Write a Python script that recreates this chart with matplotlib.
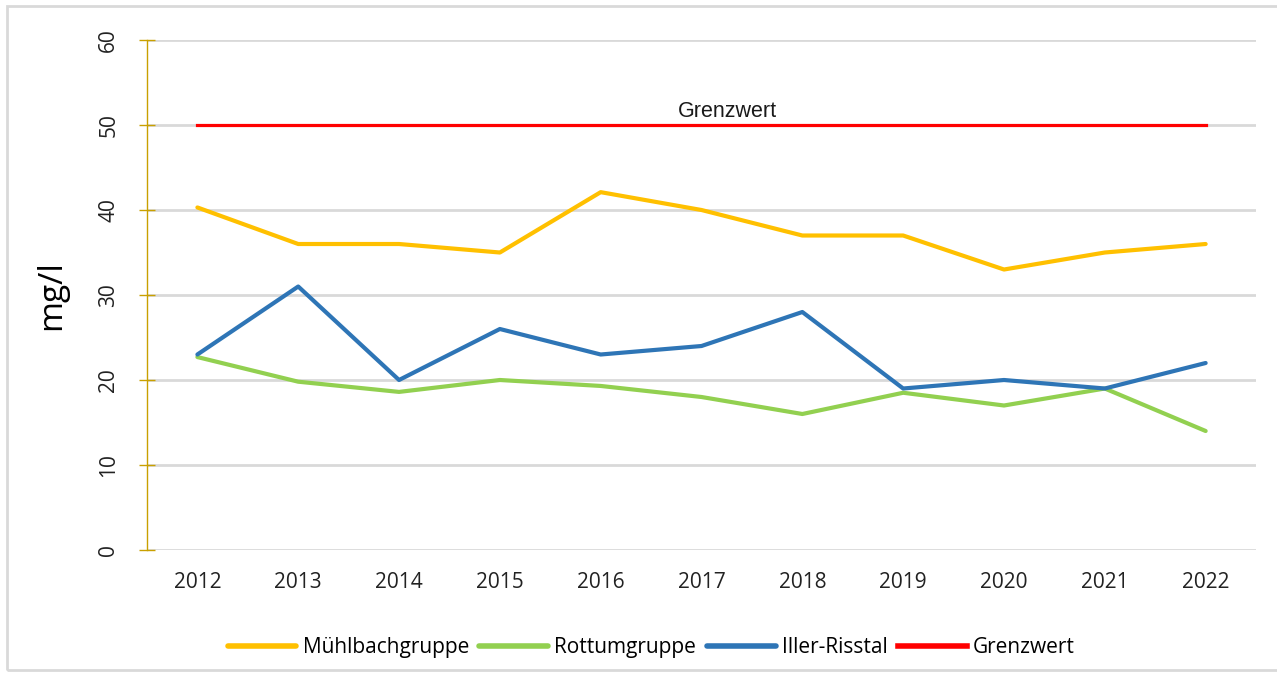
import matplotlib
matplotlib.use("Agg")
import matplotlib.pyplot as plt
from matplotlib.patches import Rectangle

plt.rcParams['font.family'] = ['Open Sans', 'DejaVu Sans']

# Daten (mg/l)
jahre = ["2012", "2013", "2014", "2015", "2016", "2017", "2018", "2019", "2020", "2021", "2022"]
muehlbach = [40.3, 36, 36, 35, 42.1, 40, 37, 37, 33, 35, 36]
rottum = [22.7, 19.8, 18.6, 20, 19.3, 18, 16, 18.5, 17, 19, 14]
iller = [23, 31, 20, 26, 23, 24, 28, 19, 20, 19, 22]
grenzwert = [50] * len(jahre)

fig = plt.figure(figsize=(12.77, 6.76), dpi=100)
ax = fig.add_axes([0.1151, 0.1864, 0.8685, 0.7544])

x = range(len(jahre))
ax.plot(x, muehlbach, color="#FFC000", lw=3, label="Mühlbachgruppe", solid_capstyle="round")
ax.plot(x, rottum, color="#92D050", lw=3, label="Rottumgruppe", solid_capstyle="round")
ax.plot(x, iller, color="#2E75B6", lw=3, label="Iller-Risstal", solid_capstyle="round")
ax.plot(x, grenzwert, color="#FF0000", lw=2.3, label="Grenzwert")
ax.text(5.26, 50.4, "Grenzwert", ha="center", va="bottom", fontsize=15.5, color="#1a1a1a",
        family=["Liberation Sans", "DejaVu Sans"])

ax.set_xlim(-0.5, len(jahre) - 0.5)
ax.set_ylim(0, 60)
ax.set_xticks(list(x))
ax.set_xticklabels(jahre, fontsize=15, color="#222222")
ax.set_yticks(range(0, 61, 10))
ax.set_yticklabels([str(v) for v in range(0, 61, 10)], rotation=90, va="center",
                   fontsize=15, color="#222222")
ax.tick_params(axis="x", length=0, pad=16)
ax.tick_params(axis="y", direction="inout", length=12, width=1, color="#C9A000", pad=14)
ax.set_ylabel("mg/l", fontsize=24, labelpad=22)

ax.grid(axis="y", color="#D9D9D9", lw=2)
ax.set_axisbelow(True)
for s in ["top", "right", "bottom"]:
    ax.spines[s].set_visible(False)
ax.spines["left"].set_color("#C9A000")
ax.spines["left"].set_linewidth(1)

leg = fig.legend(loc="center", bbox_to_anchor=(0.51, 0.042), ncol=4, frameon=False,
                 fontsize=15, handlelength=3.3, columnspacing=0.5, handletextpad=0.3)
for h in leg.get_lines():
    h.set_linewidth(4)

fig.patches.append(Rectangle((7 / 1277, 6 / 676), 1.1, 664 / 676, transform=fig.transFigure,
                             fill=False, edgecolor="#D9D9D9", lw=2))

fig.savefig("out.png", dpi=100)
